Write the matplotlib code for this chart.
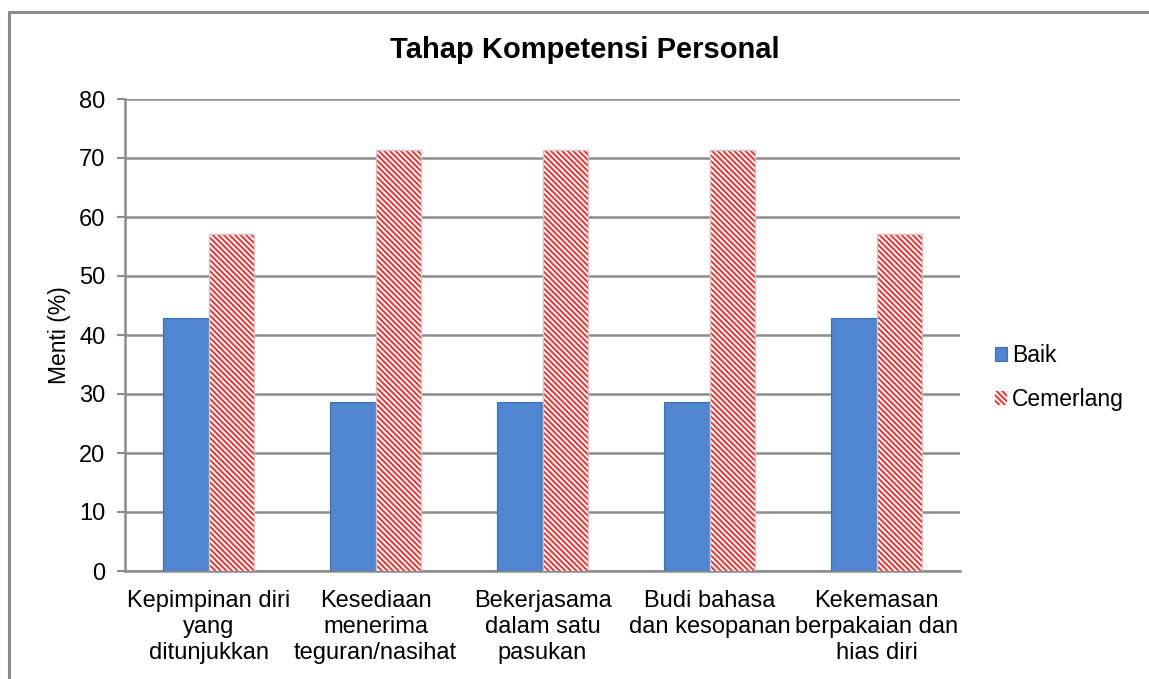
import matplotlib.pyplot as plt
import matplotlib.patches as mpatches
import numpy as np

plt.rcParams['font.family'] = ['Liberation Sans', 'DejaVu Sans']
plt.rcParams['hatch.color'] = '#ff2020'
plt.rcParams['hatch.linewidth'] = 1.3

categories = ["Kepimpinan diri\nyang\nditunjukkan",
              "Kesediaan\nmenerima\nteguran/nasihat",
              "Bekerjasama\ndalam satu\npasukan",
              "Budi bahasa\ndan kesopanan",
              "Kekemasan\nberpakaian dan\nhias diri"]
baik = [42.86, 28.57, 28.57, 28.57, 42.86]
cemerlang = [57.14, 71.43, 71.43, 71.43, 57.14]
yticks = [0, 10, 20, 30, 40, 50, 60, 70, 80]

W, H = 1149, 679
fig = plt.figure(figsize=(W / 100, H / 100), dpi=100)
ax = fig.add_axes([125 / W, 1 - 571 / H, 835 / W, (571 - 99) / H])

# outer chart frame (runs off the right and bottom edges)
fig.patches.append(mpatches.Rectangle((9 / W, -0.05), 1.2, 1 - 12 / H + 0.05,
                                      transform=fig.transFigure, fill=False,
                                      edgecolor='#8c8c8c', linewidth=2.2, zorder=0))

x = np.arange(len(categories))
w = 0.275
b1 = ax.bar(x - w / 2, baik, w, color='#4f86cf', edgecolor='#3b6fb5',
            linewidth=0.8, label='Baik', zorder=3)
b2 = ax.bar(x + w / 2, cemerlang, w, color='white', edgecolor='#ff2020',
            hatch='\\\\\\\\\\\\', linewidth=0, label='Cemerlang', zorder=3)
for r in b2:
    ax.add_patch(mpatches.Rectangle((r.get_x(), 0), r.get_width(), r.get_height(),
                                    fill=False, edgecolor='#c8c8c8', linewidth=1.0, zorder=4))

ax.set_xlim(-0.5, len(categories) - 0.5)
ax.set_ylim(0, 80)
ax.set_yticks(yticks)
ax.set_xticks(x)
ax.set_xticklabels(categories, fontsize=17, linespacing=1.22)
ax.tick_params(axis='y', labelsize=17, length=6, width=1.5, color='#8c8c8c', pad=8)
ax.tick_params(axis='x', length=0, pad=14)
ax.yaxis.grid(True, color='#8c8c8c', linewidth=1.8)
ax.set_axisbelow(True)
for s in ['top', 'right']:
    ax.spines[s].set_visible(False)
for s in ['left', 'bottom']:
    ax.spines[s].set_color('#8c8c8c')
    ax.spines[s].set_linewidth(1.8)

ax.set_ylabel('Menti (%)', fontsize=16.5, labelpad=6)
fig.text(585 / W, 1 - 50 / H, 'Tahap Kompetensi Personal', ha='center', va='center',
         fontsize=21, fontweight='bold')

ax.legend(loc='center left', bbox_to_anchor=(1.017, 0.41),
          frameon=False, fontsize=16.5, handlelength=0.55, handleheight=0.55,
          handletextpad=0.2, labelspacing=0.9)

fig.savefig('out.png', dpi=100)
